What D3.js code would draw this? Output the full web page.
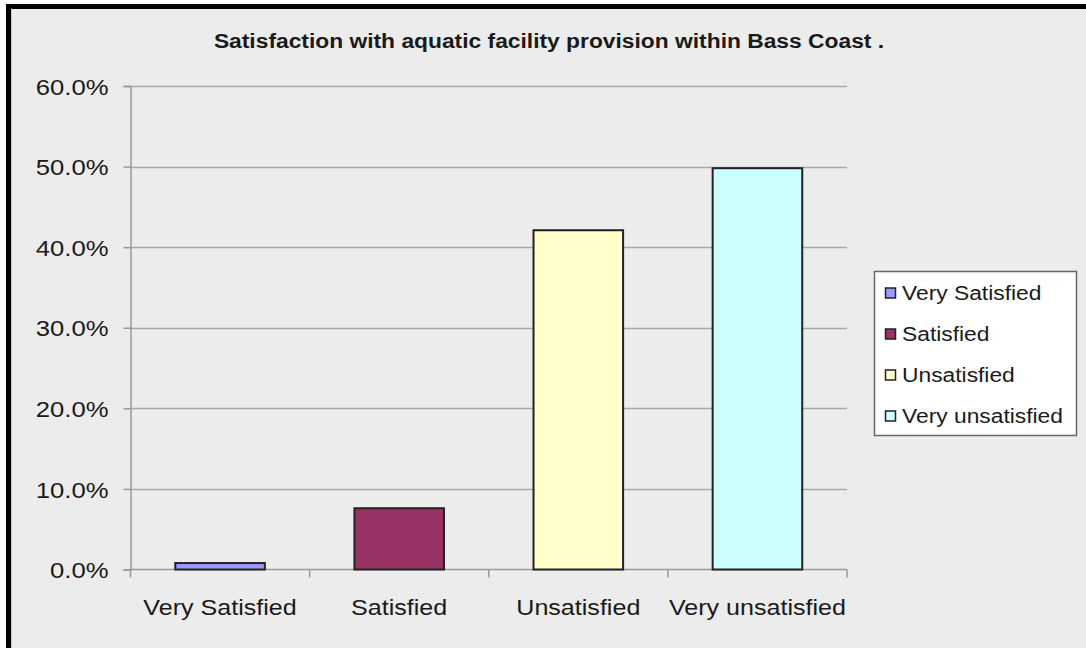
<!DOCTYPE html>
<html>
<head>
<meta charset="utf-8">
<script src="https://cdn.jsdelivr.net/npm/d3@7"></script>
<style>
  html, body { margin: 0; padding: 0; background: #ffffff; }
  svg { display: block; }
  text { font-family: Arial, "Liberation Sans", sans-serif; fill: #1a1a1a; }
</style>
</head>
<body>
<svg id="chart" width="1086" height="648"></svg>
<script>
// Survey responses: satisfaction with aquatic facility provision
const categories = ["Very Satisfied", "Satisfied", "Unsatisfied", "Very unsatisfied"];
const shares = [0.8, 7.6, 42.1, 49.8];   // percent of respondents
const colors = ["#9999ff", "#993366", "#ffffcc", "#ccffff"];
const yTicks = [0, 10, 20, 30, 40, 50, 60];
const title = "Satisfaction with aquatic facility provision within  Bass Coast .";

const W = 1086, H = 648;
const svg = d3.select("#chart");
const stretch = 1.14; // horizontal text stretch of the original rendering

function widen(sel) {
  sel.each(function () {
    const w = this.getComputedTextLength();
    d3.select(this).attr("textLength", w * stretch).attr("lengthAdjust", "spacingAndGlyphs");
  });
}

// frame
svg.append("rect").attr("x", 0).attr("y", 0).attr("width", W).attr("height", H).attr("fill", "#ffffff");
svg.append("rect").attr("x", 11).attr("y", 8).attr("width", W).attr("height", H).attr("fill", "#ececec");
svg.append("path")
  .attr("d", `M8.5,${H + 5} V6.5 H${W + 5}`)
  .attr("fill", "none").attr("stroke", "#000").attr("stroke-width", 5);
svg.append("path")
  .attr("d", `M11.5,${H + 5} V8.5`)
  .attr("fill", "none").attr("stroke", "#c8c8c8").attr("stroke-width", 1);

const plot = { left: 130.5, right: 847, top: 86, bottom: 569.5 };

const x = d3.scaleBand().domain(categories).range([plot.left, plot.right]).paddingInner(0.5).paddingOuter(0.25);
const y = d3.scaleLinear().domain([0, 60]).range([plot.bottom, plot.top]);

// gridlines
svg.append("g")
  .selectAll("line").data(yTicks.filter(d => d > 0)).join("line")
  .attr("x1", plot.left).attr("x2", plot.right)
  .attr("y1", d => Math.round(y(d)) + 0.5).attr("y2", d => Math.round(y(d)) + 0.5)
  .attr("stroke", "#a8a8a8").attr("stroke-width", 1.5);

// y axis
const yAxis = svg.append("g")
  .attr("transform", `translate(${plot.left},0)`)
  .call(d3.axisLeft(y).tickValues(yTicks).tickFormat(d => d.toFixed(1) + "%").tickSize(7).tickPadding(15));
yAxis.select(".domain").attr("stroke", "#999").attr("stroke-width", 1.5);
yAxis.selectAll(".tick line").attr("stroke", "#999").attr("stroke-width", 1.5);
yAxis.selectAll(".tick text")
  .attr("font-size", 22.5).attr("fill", "#1a1a1a").attr("dy", "0.36em")
  .style("font-family", "Arial, 'Liberation Sans', sans-serif")
  .call(widen);

// x axis with ticks on category boundaries
const bounds = d3.range(categories.length + 1).map(i => plot.left + i * (plot.right - plot.left) / categories.length);
const xg = svg.append("g");
xg.append("line")
  .attr("x1", plot.left).attr("x2", plot.right)
  .attr("y1", plot.bottom).attr("y2", plot.bottom)
  .attr("stroke", "#999").attr("stroke-width", 1.5);
xg.selectAll("line.tk").data(bounds).join("line").attr("class", "tk")
  .attr("x1", d => d).attr("x2", d => d)
  .attr("y1", plot.bottom).attr("y2", plot.bottom + 8)
  .attr("stroke", "#999").attr("stroke-width", 1.5);
xg.selectAll("text").data(categories).join("text")
  .attr("x", d => x(d) + x.bandwidth() / 2)
  .attr("y", 615)
  .attr("text-anchor", "middle")
  .attr("font-size", 22)
  .text(d => d)
  .call(widen);

// bars
svg.append("g")
  .selectAll("rect").data(categories).join("rect")
  .attr("x", d => x(d))
  .attr("y", (d, i) => y(shares[i]))
  .attr("width", x.bandwidth())
  .attr("height", (d, i) => y(0) - y(shares[i]))
  .attr("fill", (d, i) => colors[i])
  .attr("stroke", "#222").attr("stroke-width", 2);

// title
svg.append("text")
  .attr("x", 549).attr("y", 48)
  .attr("text-anchor", "middle")
  .attr("font-size", 20).attr("font-weight", "bold")
  .text(title)
  .call(widen);

// legend
const legend = svg.append("g");
legend.append("rect")
  .attr("x", 874.5).attr("y", 271.5).attr("width", 202).attr("height", 164)
  .attr("fill", "#ffffff").attr("stroke", "#666").attr("stroke-width", 1.5);
const rowY = d3.scalePoint().domain(categories).range([293, 416]);
const items = legend.selectAll("g.item").data(categories).join("g").attr("class", "item")
  .attr("transform", d => `translate(0,${rowY(d)})`);
items.append("rect")
  .attr("x", 885.5).attr("y", -5).attr("width", 10).attr("height", 10)
  .attr("fill", (d, i) => colors[i]).attr("stroke", "#222").attr("stroke-width", 1.5);
items.append("text")
  .attr("x", 902).attr("y", 0).attr("dy", "0.36em")
  .attr("font-size", 20)
  .text(d => d)
  .call(widen);
</script>
</body>
</html>
